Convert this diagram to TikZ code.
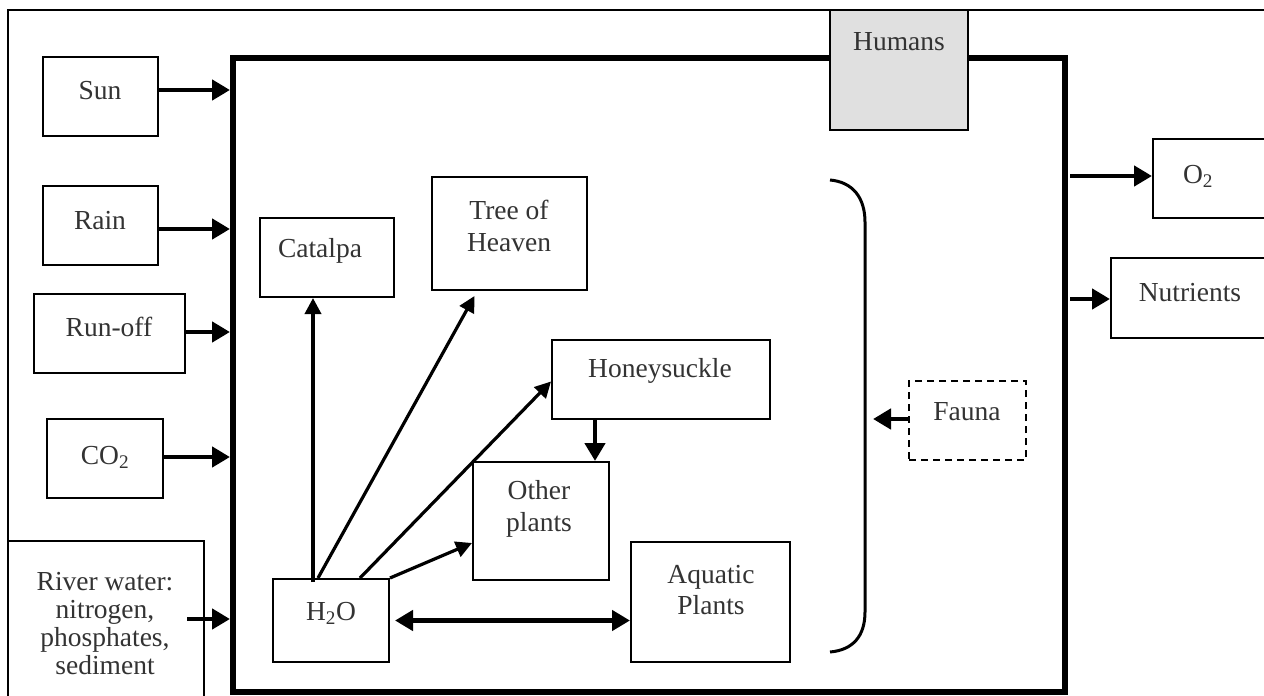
\documentclass[tikz,border=0pt]{standalone}
\usepackage{fontspec}
\setmainfont{Liberation Serif}
\usetikzlibrary{arrows.meta,calc}
\begin{document}
\begin{tikzpicture}[x=1pt,y=-1pt,
  box/.style={draw=black, line width=2pt, inner sep=0pt, fill=white},
  txt/.style={text=black!80, font=\fontsize{27.5}{31.5}\selectfont, align=center, inner sep=0pt},
  arr/.style={line width=4.5pt, -{Triangle[length=18pt,width=20pt]}},
  tarr/.style={line width=3.2pt, -{Triangle[length=16pt,width=16pt]}},
  darr/.style={line width=4.5pt, {Triangle[length=18pt,width=20pt]}-{Triangle[length=18pt,width=20pt]}}]
\useasboundingbox (0,0) rectangle (1264,696);
\begin{scope}
\clip (0,0) rectangle (1264,696);
\fill[white] (0,0) rectangle (1264,696);
% outer frame
\draw[line width=2.5pt] (8,10) rectangle (1320,740);
% inner system box
\node[draw=black, line width=6pt, minimum width=832pt, minimum height=634pt, inner sep=0pt] (inner) at (649,375) {};
% inputs
\node[box, minimum width=115pt, minimum height=79pt] (sun) at (100.5,96.5) {};
\node[txt] (sunT) at (100,91) {Sun};
\node[box, minimum width=115pt, minimum height=79pt] (rain) at (100.5,225.5) {};
\node[txt] (rainT) at (100,221) {Rain};
\node[box, minimum width=151pt, minimum height=79pt] (runoff) at (109.5,333.5) {};
\node[txt] (runoffT) at (109,327) {Run-off};
\node[box, minimum width=116pt, minimum height=79pt] (co2) at (105,458.5) {};
\node[txt] (co2T) at (105,457) {CO\textsubscript{2}};
\node[box, minimum width=196pt, minimum height=199pt] (river) at (106,640.5) {};
\node[txt, font=\fontsize{27.5}{28}\selectfont] (riverT) at (105,624) {River water:\\nitrogen,\\phosphates,\\sediment};
% plants
\node[box, minimum width=134pt, minimum height=79pt] (catalpa) at (327,257.5) {};
\node[txt] (catalpaT) at (320,251) {Catalpa};
\node[box, minimum width=155pt, minimum height=113pt] (tree) at (509.5,233.5) {};
\node[txt] (treeT) at (509,226) {Tree of\\Heaven};
\node[box, minimum width=218pt, minimum height=79pt] (honey) at (661,379.5) {};
\node[txt] (honeyT) at (660,371) {Honeysuckle};
\node[box, minimum width=136pt, minimum height=118pt] (other) at (541,521) {};
\node[txt] (otherT) at (539,509) {Other\\plants};
\node[box, minimum width=159pt, minimum height=120pt] (aquatic) at (710.5,602) {};
\node[txt] (aquaticT) at (711,590) {Aquatic\\Plants};
\node[box, minimum width=116pt, minimum height=83pt] (h2o) at (331,620.5) {};
\node[txt] (h2oT) at (331,613) {H\textsubscript{2}O};
% humans
\node[box, fill=black!12, minimum width=138pt, minimum height=120pt] (humans) at (899,70) {};
\node[txt] (humansT) at (899,42) {Humans};
% outputs
\node[box, minimum width=122pt, minimum height=79pt] (o2) at (1214,178.5) {};
\node[txt] (o2T) at (1198,176) {O\textsubscript{2}};
\node[box, minimum width=164pt, minimum height=80pt] (nutr) at (1193,298) {};
\node[txt] (nutrT) at (1190,293) {Nutrients};
% fauna
\node[draw=black, line width=2pt, dash pattern=on 7pt off 5pt, inner sep=0pt, minimum width=117pt, minimum height=79pt] (fauna) at (967.5,420.5) {};
\node[txt] (faunaT) at (967,412) {Fauna};
% bracket
\draw[line width=3pt] (830,180) .. controls (853,182) and (865,198) .. (865,222) -- (865,612) .. controls (865,636) and (853,650) .. (830,652);
% input arrows
\draw[arr] (sun.east |- 0,90) -- (inner.west |- 0,90);
\draw[arr] (rain.east |- 0,229) -- (inner.west |- 0,229);
\draw[arr] (runoff.east |- 0,332) -- (inner.west |- 0,332);
\draw[arr] (co2.east |- 0,457) -- (inner.west |- 0,457);
\coordinate (riverS) at (187,619);
\draw[arr] (riverS) -- (inner.west |- riverS);
% output arrows
\coordinate (o2S) at (1070,176);
\draw[arr] (o2S) -- (o2.west |- o2S);
\coordinate (nutrS) at (1070,299);
\draw[arr] (nutrS) -- (nutr.west |- nutrS);
% fauna arrow
\draw[arr] (fauna.west |- 0,419) -- (873,419);
% water arrows
\draw[tarr, line width=3.6pt] ([xshift=-18pt,yshift=-4pt]h2o.north) -- ([xshift=-14pt]catalpa.south);
\draw[tarr] ([xshift=-13pt]h2o.north) -- ([xshift=-35pt,yshift=-5pt]tree.south);
\draw[tarr] ([xshift=29pt]h2o.north) -- ([yshift=-2pt]honey.west);
\draw[tarr] (h2o.north east) -- ([yshift=-22pt]other.west);
\draw[darr, shorten <=5pt] (h2o.east) -- (aquatic.west |- h2o.east);
\draw[arr] ([xshift=-66pt]honey.south) -- (other.north -| 595,0);
\end{scope}
\end{tikzpicture}
\end{document}
